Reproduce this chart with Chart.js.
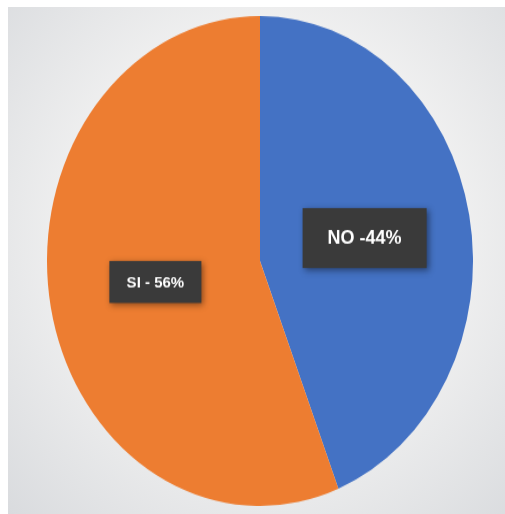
<!DOCTYPE html>
<html>
<head>
<meta charset="utf-8">
<script src="https://cdn.jsdelivr.net/npm/chart.js@4"></script>
<style>
  html, body { margin: 0; padding: 0; background: #fff; }
  #frame {
    position: absolute; left: 8px; top: 7px; width: 497px; height: 507px;
    background: radial-gradient(ellipse at 52% 45%, #fbfbfb 0%, #f1f1f1 50%, #d9dbde 100%);
    overflow: hidden;
  }
  #wrap {
    position: absolute; left: 39px; top: 41px; width: 426px; height: 426px;
    transform: scaleY(1.15); transform-origin: 50% 50%;
  }
</style>
</head>
<body>
<div id="frame">
  <div id="wrap"><canvas id="pie" width="426" height="426"></canvas></div>
</div>
<script>
// answers
const labels = ["NO", "SI"];
const values = [44, 56];
const colors = ["#4472C4", "#ED7D31"];

const stretch = 1.15;
// label boxes: font size, box w/h, nudge in page px
const boxStyle = [
  { font: 18, w: 124, h: 60, dx: 0, dy: 0 },
  { font: 15, w: 92, h: 42, dx: 0, dy: -2 }
];

const labelBoxes = {
  id: "labelBoxes",
  afterDatasetsDraw(chart) {
    const ctx = chart.ctx;
    const arcs = chart.getDatasetMeta(0).data;
    arcs.forEach((arc, i) => {
      const p = arc.tooltipPosition();
      const s = boxStyle[i];
      const text = labels[i] + (i === 0 ? " -" : " - ") + values[i] + "%";
      ctx.save();
      ctx.translate(p.x, p.y);
      ctx.scale(1, 1 / stretch);
      ctx.translate(s.dx, s.dy);
      ctx.shadowColor = "rgba(0,0,0,0.45)";
      ctx.shadowBlur = 6;
      ctx.shadowOffsetX = 2;
      ctx.shadowOffsetY = 2;
      ctx.fillStyle = "#3a3a3a";
      ctx.fillRect(-s.w / 2, -s.h / 2, s.w, s.h);
      ctx.shadowColor = "transparent";
      ctx.fillStyle = "#ffffff";
      ctx.font = "bold " + s.font + "px 'Liberation Sans', Arial, sans-serif";
      ctx.textAlign = "center";
      ctx.textBaseline = "middle";
      ctx.fillText(text, 0, 1);
      ctx.restore();
    });
  }
};

new Chart("pie", {
  type: "pie",
  data: {
    labels: labels,
    datasets: [{
      data: values,
      backgroundColor: colors,
      borderWidth: 0
    }]
  },
  options: {
    responsive: false,
    animation: false,
    layout: { padding: 0 },
    plugins: {
      legend: { display: false },
      tooltip: { enabled: false }
    }
  },
  plugins: [labelBoxes]
});
</script>
</body>
</html>
